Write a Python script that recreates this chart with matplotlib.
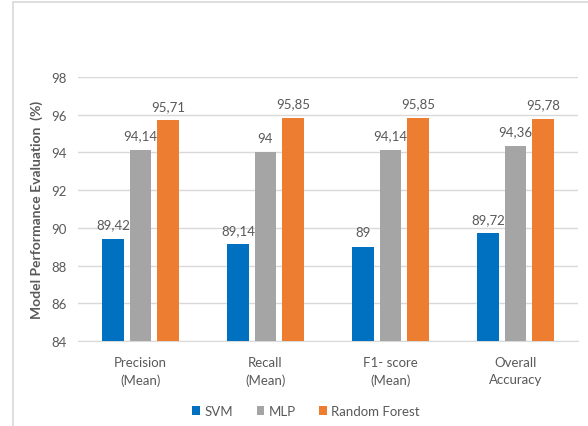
import matplotlib
matplotlib.use("Agg")
import matplotlib.pyplot as plt
import matplotlib.patches as mpatches
import numpy as np

plt.rcParams['font.family'] = ['Lato', 'DejaVu Sans']

# data
categories = ["Precision\n(Mean)", "Recall\n(Mean)", "F1- score\n(Mean)", "Overall\nAccuracy"]
svm = [89.42, 89.14, 89.0, 89.72]
mlp = [94.14, 94.0, 94.14, 94.36]
rf = [95.71, 95.85, 95.85, 95.78]
svmLabels = ["89,42", "89,14", "89", "89,72"]
mlpLabels = ["94,14", "94", "94,14", "94,36"]
rfLabels = ["95,71", "95,85", "95,85", "95,78"]
yTicks = [84, 86, 88, 90, 92, 94, 96, 98]

textColor = "#595959"
W, H = 588, 427
fig = plt.figure(figsize=(5.88, 4.27), dpi=100)
ax = fig.add_axes([78 / W, 1 - 342 / H, 500 / W, 264 / H])

# outer frame of the chart area (cut off at right/bottom in the original)
fig.patches.append(mpatches.Rectangle((13 / W, -0.1), 1.2, 1 - 3 / H + 0.1, transform=fig.transFigure,
                                      fill=False, edgecolor="#D9D9D9", linewidth=1.2))

x = np.arange(len(categories))
w = 0.172
step = 0.22
series = [(svm, svmLabels, "#0070C0", "SVM"), (mlp, mlpLabels, "#A5A5A5", "MLP"), (rf, rfLabels, "#ED7D31", "Random Forest")]
for i, (vals, labs, col, name) in enumerate(series):
    pos = x + (i - 1) * step
    ax.bar(pos, np.array(vals) - 84, width=w, bottom=84, color=col, label=name, zorder=3)
    for p, v, l in zip(pos, vals, labs):
        ax.annotate(l, (p, v), xytext=(0, 6), textcoords="offset points",
                    ha="center", va="bottom", fontsize=9.5, color=textColor)

ax.set_xlim(-0.5, 3.5)
ax.set_ylim(84, 98)
ax.set_yticks(yTicks)
ax.set_yticklabels([str(t) for t in yTicks])
ax.set_xticks(x)
ax.set_xticklabels(categories, linespacing=1.45)
ax.yaxis.grid(True, color="#D9D9D9", linewidth=1, zorder=0)
for s in ["top", "right", "left"]:
    ax.spines[s].set_visible(False)
ax.spines["bottom"].set_color("#D9D9D9")
ax.tick_params(axis="both", length=0, colors=textColor, labelsize=9.5)
ax.tick_params(axis="x", pad=11)
ax.tick_params(axis="y", pad=8)
ax.set_ylabel("Model Performance Evaluation  (%)", fontsize=10, fontweight="bold", color=textColor)
ax.yaxis.set_label_coords(-0.07, 0.5)

fig.legend(loc="center", bbox_to_anchor=(306 / W, 1 - 412 / H), ncol=3, frameon=False, fontsize=9.5,
           handlelength=0.6, handleheight=0.6, handletextpad=0.3, columnspacing=1.8, labelcolor=textColor)

plt.savefig("out.png", dpi=100)
